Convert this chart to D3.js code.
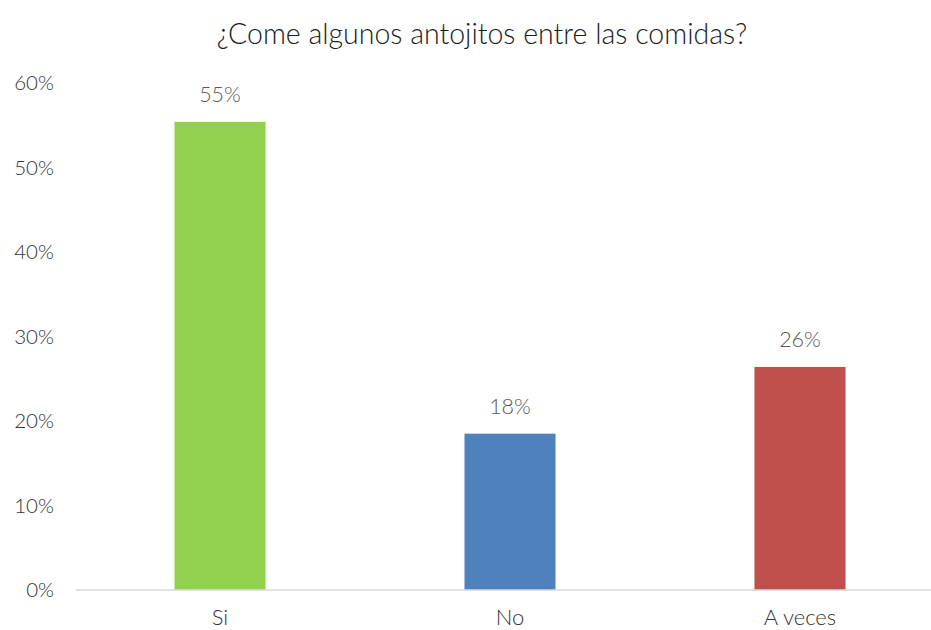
<!DOCTYPE html>
<html><head><meta charset="utf-8">
<script src="https://cdn.jsdelivr.net/npm/d3@7"></script>
<style>body{margin:0;background:#fff;} text{font-family:Lato,"Open Sans",sans-serif;}</style>
</head><body>
<svg id="c" width="931" height="630"></svg>
<script>
const title = "¿Come algunos antojitos entre las comidas?";
const categories = ["Si", "No", "A veces"];
const values = [55.4, 18.5, 26.4];
const labels = ["55%", "18%", "26%"];
const colors = ["#92D050", "#4F81BD", "#C0504D"];
const yTicks = [0, 10, 20, 30, 40, 50, 60];

const svg = d3.select("#c");
const x = d3.scaleBand().domain(categories).range([75, 945]).paddingInner(0.686).paddingOuter(0.343);
const y = d3.scaleLinear().domain([0, 60]).range([590, 83]);

svg.append("text").attr("x", 482).attr("y", 44).attr("text-anchor", "middle")
  .attr("font-size", 28.5).attr("font-weight", 300).attr("fill", "#1a1a1a").text(title);

svg.selectAll("rect.bar").data(categories).enter().append("rect")
  .attr("x", d => x(d)).attr("width", x.bandwidth())
  .attr("y", (d, i) => y(values[i])).attr("height", (d, i) => y(0) - y(values[i]))
  .attr("fill", (d, i) => colors[i]);

svg.append("line").attr("x1", 76).attr("x2", 945).attr("y1", y(0)).attr("y2", y(0))
  .attr("stroke", "#d9d9d9").attr("stroke-width", 1.5);

svg.selectAll("text.yt").data(yTicks).enter().append("text")
  .attr("x", 54).attr("y", d => y(d)).attr("dy", "0.35em").attr("text-anchor", "end")
  .attr("font-size", 20.5).attr("font-weight", 300).attr("fill", "#333333").text(d => d + "%");

svg.selectAll("text.xt").data(categories).enter().append("text")
  .attr("x", d => x(d) + x.bandwidth() / 2).attr("y", 625).attr("text-anchor", "middle")
  .attr("font-size", 22).attr("font-weight", 300).attr("fill", "#333333").text(d => d);

svg.selectAll("text.dl").data(categories).enter().append("text")
  .attr("x", d => x(d) + x.bandwidth() / 2).attr("y", (d, i) => y(values[i]) - 20)
  .attr("text-anchor", "middle").attr("font-size", 21.5).attr("font-weight", 300)
  .attr("fill", "#595959").text((d, i) => labels[i]);
</script>
</body></html>
